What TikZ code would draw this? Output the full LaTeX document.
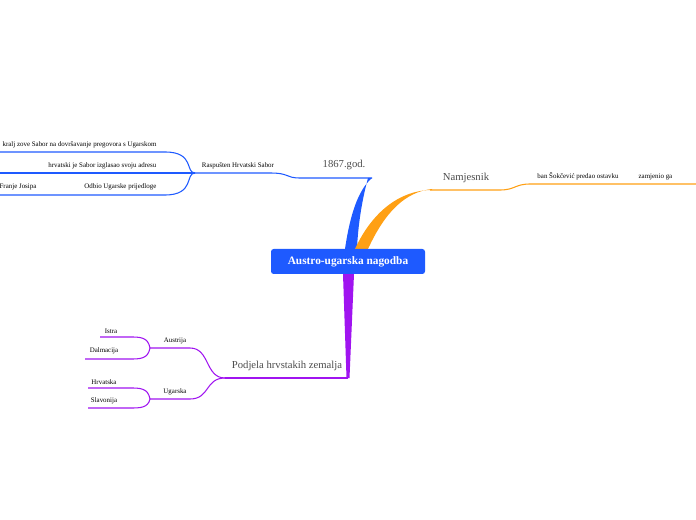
\documentclass[tikz,border=0pt]{standalone}
\usepackage{fontspec}
\setmainfont{Liberation Serif}
\begin{document}
\begin{tikzpicture}[x=0.75pt,y=-0.75pt,
  sm/.style={font=\fontsize{5.2}{6}\selectfont,inner sep=1pt,anchor=south},
  big/.style={font=\fontsize{8}{9}\selectfont,text=black!70,inner sep=1pt,anchor=south},
  bl/.style={draw={rgb,255:red,30;green,90;blue,255},line width=0.8pt},
  orr/.style={draw={rgb,255:red,255;green,160;blue,20},line width=0.8pt},
  pu/.style={draw={rgb,255:red,160;green,20;blue,240},line width=0.8pt}]
\definecolor{cb}{RGB}{30,90,255}
\definecolor{co}{RGB}{255,160,20}
\definecolor{cp}{RGB}{160,20,240}
\useasboundingbox (0,0) rectangle (696,520);
% tapers
\fill[cb] (345,249) .. controls (350,215) and (358,190) .. (372,178) -- (368,178) .. controls (362,200) and (358,225) .. (357,249) -- cycle;
\fill[co] (355,249) .. controls (372,212) and (400,190) .. (432,190) -- (432,189) .. controls (405,192) and (385,212) .. (368,249) -- cycle;
\fill[cp] (343,274) -- (354,274) -- (349.5,378) -- (346.5,378) -- cycle;
\node[fill=cb,rounded corners=2pt,minimum width=154*0.75pt,minimum height=25*0.75pt,text=white,font=\bfseries\fontsize{8.5}{10}\selectfont] (c) at (348,261.5) {Austro-ugarska nagodba};
% blue branch
\coordinate (b0) at (372,178);
\coordinate (b1) at (300,178);
\coordinate (b2) at (195,173);
\draw[bl] (b0) -- (b1) .. controls (285,178) and (290,173) .. (270,173) -- (b2);
\node[big] (g) at (344,171) {1867.god.};
\node[sm] (r) at (238,171) {Raspušten Hrvatski Sabor};
\draw[bl] (b2) .. controls (185,173) and (195,152) .. (165,152) -- (0,152);
\draw[bl] (b2) -- (0,173);
\draw[bl] (b2) .. controls (185,173) and (195,195) .. (165,195) -- (0,195);
\node[sm,anchor=south east] (k) at (158,150) {kralj zove Sabor na dovršavanje pregovora s Ugarskom};
\node[sm,anchor=south east] (h) at (158,171) {hrvatski je Sabor izglasao svoju adresu};
\node[sm,anchor=south east] (o) at (158,192) {Odbio Ugarske prijedloge};
\node[sm,anchor=south east] (f) at (38,192) {Franje Josipa};
% orange branch
\draw[orr] (430,190) -- (500,190) .. controls (515,190) and (515,184) .. (530,184) -- (696,184);
\node[big] (n) at (466,184) {Namjesnik};
\node[sm] (s) at (578,182) {ban Šokčević predao ostavku};
\node[sm,anchor=south west] (z) at (637,182) {zamjenio ga};
% purple branch
\draw[pu] (348,378) -- (225,378);
\node[big] (p) at (287,372) {Podjela hrvstakih zemalja};
\draw[pu] (225,378) .. controls (205,378) and (210,348) .. (190,348) -- (150,348);
\draw[pu] (225,378) .. controls (205,378) and (210,399) .. (190,399) -- (150,399);
\node[sm] (a) at (175,346) {Austrija};
\node[sm] (u) at (175,397) {Ugarska};
\draw[pu] (150,348) .. controls (148,337) and (140,337) .. (130,337) -- (100,337);
\draw[pu] (150,348) .. controls (148,359) and (140,359) .. (130,359) -- (85,359);
\draw[pu] (150,399) .. controls (148,388) and (140,388) .. (130,388) -- (88,388);
\draw[pu] (150,399) .. controls (148,408) and (140,408) .. (130,408) -- (88,408);
\node[sm] (i) at (111,335) {Istra};
\node[sm] (d) at (104,356) {Dalmacija};
\node[sm] (hv) at (104,386) {Hrvatska};
\node[sm] (sl) at (104,406) {Slavonija};
\end{tikzpicture}
\end{document}
